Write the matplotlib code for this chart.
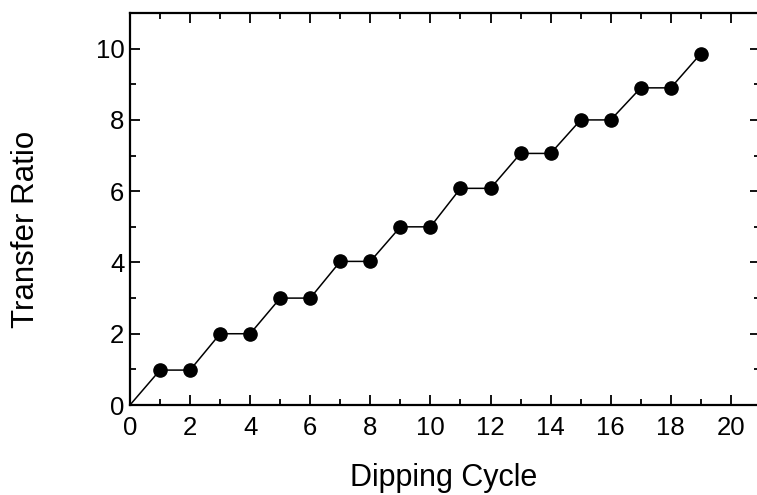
import matplotlib
matplotlib.use("Agg")
import matplotlib.pyplot as plt
from matplotlib.ticker import MultipleLocator

# === Data ===
cycles = [1, 2, 3, 4, 5, 6, 7, 8, 9, 10, 11, 12, 13, 14, 15, 16, 17, 18, 19]
ratios = [0.98, 0.98, 2.0, 2.0, 3.0, 3.0, 4.03, 4.03, 5.0, 5.0,
          6.08, 6.08, 7.06, 7.06, 8.0, 8.0, 8.9, 8.9, 9.86]

plt.rcParams['font.family'] = ['Liberation Sans', 'DejaVu Sans']

fig = plt.figure(figsize=(7.57, 4.95), dpi=100)
ax = fig.add_axes([0.1717, 0.1818, 0.8323, 0.7919])

# line from the origin through all points, markers only on measured cycles
ax.plot([0] + cycles, [0] + ratios, color='black', linewidth=1.1)
ax.plot(cycles, ratios, 'o', color='black', markersize=9.5)

ax.set_xlim(0, 20.97)
ax.set_ylim(0, 11)
ax.xaxis.set_major_locator(MultipleLocator(2))
ax.xaxis.set_minor_locator(MultipleLocator(1))
ax.yaxis.set_major_locator(MultipleLocator(2))
ax.yaxis.set_minor_locator(MultipleLocator(1))
ax.tick_params(which='both', direction='in', top=True, right=True,
               width=1.3, labelsize=18.5)
ax.tick_params(axis='x', pad=8)
ax.tick_params(axis='y', pad=4)
ax.tick_params(which='major', length=7.5)
ax.tick_params(which='minor', length=4)

for s in ax.spines.values():
    s.set_linewidth(1.6)

ax.set_xlabel('Dipping Cycle', fontsize=22)
ax.set_ylabel('Transfer Ratio', fontsize=22.5)
ax.xaxis.set_label_coords(0.498, -0.148)
ax.yaxis.set_label_coords(-0.141, 0.449)

fig.savefig('out.png', dpi=100)
